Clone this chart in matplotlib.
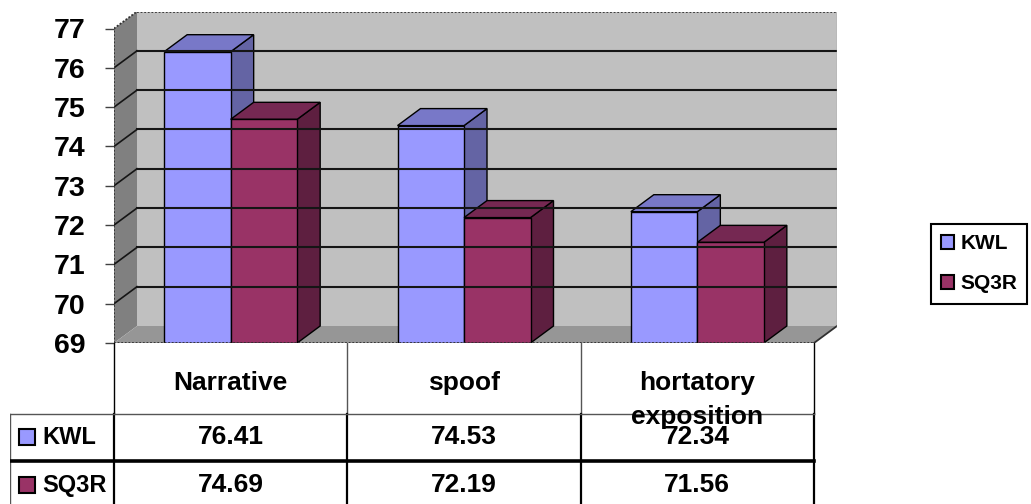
import textwrap
import matplotlib
matplotlib.use("Agg")
import matplotlib.pyplot as plt
from matplotlib.patches import Polygon, Patch

categories = ["Narrative", "spoof", "hortatory exposition"]
series = ["KWL", "SQ3R"]
kwl = [76.41, 74.53, 72.34]
sq3r = [74.69, 72.19, 71.56]
y_ticks = [69, 70, 71, 72, 73, 74, 75, 76, 77]

front_colors = ["#9999ff", "#993366"]
top_colors = ["#7878c8", "#752852"]
side_colors = ["#6464a4", "#5e1f40"]

W, H = 1031, 504
plt.rcParams["font.family"] = ["Liberation Sans", "DejaVu Sans"]
plt.rcParams["font.weight"] = "bold"

fig = plt.figure(figsize=(W / 100, H / 100), dpi=100)

# front plane of the chart, in pixels
x0_px, x1_px = 114, 814
ybot_px, ytop_px = 343, 28.5
depth_x, depth_y = 23, 17
ncat = len(categories)
ymin, ymax = y_ticks[0], y_ticks[-1]
ux = (x1_px - x0_px) / ncat
uy = (ybot_px - ytop_px) / (ymax - ymin)
DX = depth_x / ux
DY = depth_y / uy
BW = 66.5 / ux

ax = fig.add_axes([x0_px / W, 1 - ybot_px / H,
                   (x1_px - x0_px + depth_x) / W, (ybot_px - ytop_px + depth_y) / H])
ax.set_xlim(0, ncat + DX)
ax.set_ylim(ymin, ymax + DY)
for s in ax.spines.values():
    s.set_visible(False)

# walls and floor
ax.add_patch(Polygon([(DX, ymin + DY), (ncat + DX, ymin + DY), (ncat + DX, ymax + DY), (DX, ymax + DY)],
                     fc="#c0c0c0", ec="none"))
ax.add_patch(Polygon([(0, ymin), (DX, ymin + DY), (DX, ymax + DY), (0, ymax)], fc="#808080", ec="none"))
ax.add_patch(Polygon([(0, ymin), (ncat, ymin), (ncat + DX, ymin + DY), (DX, ymin + DY)], fc="#969696", ec="none"))

# gridlines on back and side wall
for v in y_ticks[1:-1]:
    ax.plot([DX, ncat + DX], [v + DY, v + DY], color="#151515", lw=1.5)
    ax.plot([0, DX], [v, v + DY], color="#151515", lw=1.2)

dotted = dict(color="#303030", lw=1.3, ls=(0, (1, 1)))
ax.plot([DX, ncat + DX], [ymax + DY, ymax + DY], **dotted)
ax.plot([0, DX], [ymax, ymax + DY], **dotted)
ax.plot([0, 0], [ymin, ymax], **dotted)
ax.plot([0, ncat], [ymin, ymin], **dotted)
ax.plot([ncat, ncat + DX], [ymin, ymin + DY], color="#303030", lw=1.3)
ax.plot([ncat + DX, ncat + DX], [ymin + DY, ymax + DY], color="#a0a0a0", lw=1)

# bars
for i in range(ncat):
    for j, vals in enumerate([kwl, sq3r]):
        left = i + 0.5 - BW + j * BW
        v = vals[i]
        ax.add_patch(Polygon([(left + BW, ymin), (left + BW + DX, ymin + DY), (left + BW + DX, v + DY), (left + BW, v)],
                             fc=side_colors[j], ec="k", lw=1))
        ax.add_patch(Polygon([(left, v), (left + BW, v), (left + BW + DX, v + DY), (left + DX, v + DY)],
                             fc=top_colors[j], ec="k", lw=1))
        ax.add_patch(Polygon([(left, ymin), (left + BW, ymin), (left + BW, v), (left, v)],
                             fc=front_colors[j], ec="k", lw=1))

ax.set_xticks([])
ax.set_yticks(y_ticks)
ax.tick_params(axis="y", length=6.5, width=1, pad=14, labelsize=20.5, color="#404040")

# data table under the chart
tl_px = 10
axt = fig.add_axes([tl_px / W, 0, (x1_px + depth_x - tl_px) / W, (H - ybot_px) / H])
xl = -(x0_px - tl_px) / ux
axt.set_xlim(xl, ncat + DX)
axt.set_ylim(H - ybot_px, 0)
axt.axis("off")

h_head, h_split, h_end = 71, 118, 170
for k in range(ncat + 1):
    axt.plot([k, k], [0, h_head], color="#555555" if 0 < k < ncat else "k", lw=1)
    axt.plot([k, k], [h_head, h_end], color="k", lw=1.6)
axt.plot([xl + 0.002, xl + 0.002], [h_head, h_end], color="#555555", lw=1)
axt.plot([xl, ncat], [h_head, h_head], color="#555555", lw=1)
axt.plot([xl, ncat], [h_split, h_split], color="k", lw=2.6)

for i, cat in enumerate(categories):
    for k, line in enumerate(textwrap.wrap(cat, 12)):
        axt.text(i + 0.5, 47 + 34 * k, line, ha="center", va="baseline", fontsize=19)
    for r, vals in enumerate([kwl, sq3r]):
        axt.text(i + 0.5, 101 + 48 * r, f"{vals[i]:.2f}", ha="center", va="baseline", fontsize=19)

for r, name in enumerate(series):
    axt.plot([(27 - x0_px) / ux], [93.5 + 48 * r], marker="s", ms=11,
             mfc=front_colors[r], mec="k", mew=1.5)
    axt.text((42 - x0_px) / ux, 101 + 48 * r, name, ha="left", va="baseline", fontsize=17)

handles = [Patch(fc=front_colors[r], ec="k", lw=1.5, label=series[r]) for r in range(len(series))]
leg = fig.legend(handles=handles, loc="upper left", bbox_to_anchor=(931 / W, 1 - 224 / H),
                 frameon=True, fancybox=False, edgecolor="k", framealpha=1, fontsize=15,
                 handlelength=0.6, handleheight=0.6, handletextpad=0.3, borderpad=0.5,
                 labelspacing=1.0, borderaxespad=0)
leg.get_frame().set_linewidth(1.5)

fig.savefig("out.png", dpi=100)
